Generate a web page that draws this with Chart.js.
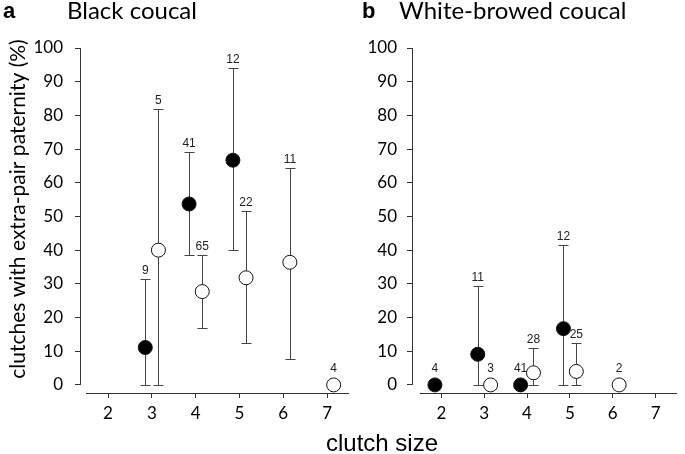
<!DOCTYPE html>
<html>
<head>
<meta charset="utf-8">
<script src="https://cdn.jsdelivr.net/npm/chart.js@4.4.0/dist/chart.umd.min.js"></script>
<style>
  body { margin: 0; background: #fff; }
  #wrap { position: relative; width: 685px; height: 454px; overflow: hidden; }
  canvas { position: absolute; left: 0; top: 0; }
</style>
</head>
<body>
<div id="wrap">
  <canvas id="chartA" width="685" height="454"></canvas>
  <canvas id="chartB" width="685" height="454"></canvas>
</div>
<script>
// values: % clutches with EPP per clutch size, CI low/high, n (label)
const OFFSET = 0.15; // filled dots left of the tick, open dots right

// panel a - Black coucal
const aFilledSize = [3, 4, 5];
const aFilledPct = [11.1, 53.7, 66.7];
const aFilledLo = [0, 38.5, 40];
const aFilledHi = [31.5, 69, 94];
const aFilledN = [9, 41, 12];

const aOpenSize = [3, 4, 5, 6, 7];
const aOpenPct = [40, 27.7, 31.8, 36.4, 0];
const aOpenLo = [0, 17, 12.4, 7.8, null];
const aOpenHi = [82, 38.5, 51.5, 64.5, null];
const aOpenN = [5, 65, 22, 11, 4];

// panel b - White-browed coucal
const bFilledSize = [2, 3, 4, 5];
const bFilledPct = [0, 9.1, 0, 16.7];
const bFilledLo = [null, 0, null, 0];
const bFilledHi = [null, 29.3, null, 41.5];
const bFilledN = [4, 11, 41, 12];

const bOpenSize = [3, 4, 5, 6];
const bOpenPct = [0, 3.6, 4, 0];
const bOpenLo = [null, 0, 0, null];
const bOpenHi = [null, 11, 12.3, null];
const bOpenN = [3, 28, 25, 2];

const xTicks = [2, 3, 4, 5, 6, 7];
const yTicks = [0, 10, 20, 30, 40, 50, 60, 70, 80, 90, 100];

const AXIS = "#333";
const TICKFONT = { family: "Lato", size: 17 };

function makeSet(size, pct, lo, hi, n, shift, filled) {
  return {
    data: size.map((s, i) => ({ x: s + shift, y: pct[i] })),
    lo: lo,
    hi: hi,
    n: n,
    pointRadius: 7,
    pointHoverRadius: 7,
    pointBackgroundColor: filled ? "#000" : "#fff",
    pointBorderColor: "#111",
    pointBorderWidth: 1,
    showLine: false
  };
}

// error bars under the dots, n labels above
const errBars = {
  id: "errBars",
  beforeDatasetsDraw(chart) {
    const ctx = chart.ctx;
    const x = chart.scales.x, y = chart.scales.y;
    ctx.save();
    ctx.strokeStyle = "#444";
    ctx.lineWidth = 1;
    chart.data.datasets.forEach((ds) => {
      ds.data.forEach((p, i) => {
        if (ds.lo[i] == null) return;
        const px = Math.round(x.getPixelForValue(p.x)) + 0.5;
        const yl = Math.round(y.getPixelForValue(ds.lo[i])) + 0.5;
        const yh = Math.round(y.getPixelForValue(ds.hi[i])) + 0.5;
        ctx.beginPath();
        ctx.moveTo(px, yl); ctx.lineTo(px, yh);
        ctx.moveTo(px - 5, yl); ctx.lineTo(px + 5, yl);
        ctx.moveTo(px - 5, yh); ctx.lineTo(px + 5, yh);
        ctx.stroke();
      });
    });
    ctx.restore();
  },
  afterDatasetsDraw(chart) {
    const ctx = chart.ctx;
    const x = chart.scales.x, y = chart.scales.y;
    ctx.save();
    ctx.fillStyle = "#222";
    ctx.font = '12px "Liberation Sans"';
    ctx.textAlign = "center";
    ctx.textBaseline = "alphabetic";
    chart.data.datasets.forEach((ds) => {
      ds.data.forEach((p, i) => {
        const px = x.getPixelForValue(p.x);
        let top = y.getPixelForValue(p.y) - 8;
        if (ds.hi[i] != null) top = Math.min(top, y.getPixelForValue(ds.hi[i]));
        ctx.fillText(String(ds.n[i]), px, top - 5);
      });
    });
    ctx.restore();
  }
};

// y axis line only from 0 to 100, x axis line detached from it
const axisLines = {
  id: "axisLines",
  afterDraw(chart, args, opts) {
    const ctx = chart.ctx;
    const a = chart.chartArea;
    const y = chart.scales.y;
    ctx.save();
    ctx.strokeStyle = AXIS;
    ctx.lineWidth = 1;
    ctx.beginPath();
    const lx = Math.round(a.left) + 0.5;
    ctx.moveTo(lx, y.getPixelForValue(0));
    ctx.lineTo(lx, y.getPixelForValue(100));
    const by = Math.round(a.bottom) + 0.5;
    ctx.moveTo(a.left + opts.gap, by);
    ctx.lineTo(a.right, by);
    ctx.stroke();
    ctx.restore();
  }
};

const titles = {
  id: "titles",
  afterDraw(chart) {
    const ctx = chart.ctx;
    ctx.save();
    ctx.fillStyle = "#000";
    ctx.textBaseline = "alphabetic";
    ctx.font = 'bold 22px "Liberation Sans"';
    ctx.fillText("a", 3, 18);
    ctx.fillText("b", 362, 18);
    ctx.font = "24px Lato";
    ctx.fillText("Black coucal", 67, 18.5);
    ctx.fillText("White-browed coucal", 399, 18.5);
    ctx.font = '24px "Liberation Sans"';
    ctx.textAlign = "center";
    ctx.fillText("clutch size", 382, 451);
    ctx.translate(25, 209);
    ctx.rotate(-Math.PI / 2);
    ctx.font = "21px Lato";
    ctx.fillText("clutches with extra-pair paternity (%)", 0, 0);
    ctx.restore();
  }
};

function makeChart(id, sets, xMin, yWidth, padLeft, padRight, gap, extra) {
  return new Chart(document.getElementById(id), {
    type: "scatter",
    data: { datasets: sets },
    options: {
      responsive: false,
      animation: false,
      events: [],
      layout: { padding: { left: padLeft, right: padRight, top: 48, bottom: 0 } },
      plugins: {
        legend: { display: false },
        tooltip: { enabled: false },
        axisLines: { gap: gap }
      },
      scales: {
        x: {
          type: "linear",
          min: xMin,
          max: 7.5,
          afterBuildTicks: (s) => { s.ticks = xTicks.map((v) => ({ value: v })); },
          afterFit: (s) => { s.height = 61; },
          border: { display: false },
          grid: { display: true, drawOnChartArea: false, drawTicks: true, tickLength: 5, color: AXIS },
          ticks: { font: TICKFONT, color: "#000", padding: 5, maxRotation: 0 }
        },
        y: {
          type: "linear",
          min: -2.4,
          max: 100,
          afterBuildTicks: (s) => { s.ticks = yTicks.map((v) => ({ value: v })); },
          afterFit: (s) => { s.width = yWidth; },
          border: { display: false },
          grid: { display: true, drawOnChartArea: false, drawTicks: true, tickLength: 5, color: AXIS },
          ticks: { font: TICKFONT, color: "#000", padding: id === "chartA" ? 12 : 10 }
        }
      }
    },
    plugins: [errBars, axisLines].concat(extra)
  });
}

makeChart("chartA", [
  makeSet(aFilledSize, aFilledPct, aFilledLo, aFilledHi, aFilledN, -OFFSET, true),
  makeSet(aOpenSize, aOpenPct, aOpenLo, aOpenHi, aOpenN, OFFSET, false)
], 1.36, 80, 0, 685 - 349, 6, [titles]);

makeChart("chartB", [
  makeSet(bFilledSize, bFilledPct, bFilledLo, bFilledHi, bFilledN, -OFFSET, true),
  makeSet(bOpenSize, bOpenPct, bOpenLo, bOpenHi, bOpenN, OFFSET, false)
], 1.315, 72, 340, 685 - 683, 8, []);
</script>
</body>
</html>
